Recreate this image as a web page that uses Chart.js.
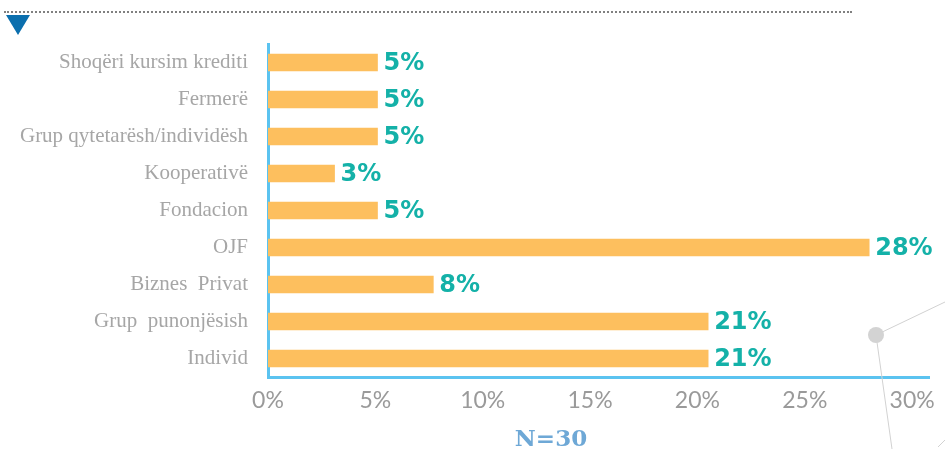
<!DOCTYPE html>
<html>
<head>
<meta charset="utf-8">
<script src="https://cdn.jsdelivr.net/npm/chart.js@4.4.0/dist/chart.umd.min.js"></script>
<style>
  html, body { margin: 0; padding: 0; background: #fff; }
  .wrap { position: relative; width: 945px; height: 449px; overflow: hidden; }
  .dots { position: absolute; left: 4px; top: 11px; width: 848px; border-top: 2px dotted #808080; }
  .tri { position: absolute; left: 6px; top: 15px; width: 0; height: 0;
         border-left: 12px solid transparent; border-right: 12px solid transparent; border-top: 20px solid #0b6fae; }
  .note { position: absolute; left: 500px; top: 424px; width: 102px; text-align: center;
          font: bold 23px "DejaVu Serif", serif; color: #6ea8d6; line-height: 28px; }
  svg.deco { position: absolute; left: 0; top: 0; pointer-events: none; }
  canvas { position: absolute; left: 0; top: 0; }
</style>
</head>
<body>
<div class="wrap">
  <canvas id="myChart" width="945" height="449"></canvas>
  <div class="dots"></div>
  <div class="tri"></div>
  <svg class="deco" width="945" height="449">
    <line x1="876" y1="335" x2="945" y2="302" stroke="#d2d2d2" stroke-width="1"/>
    <line x1="876" y1="335" x2="892" y2="449" stroke="#d2d2d2" stroke-width="1"/>
    <line x1="938" y1="447" x2="945" y2="440" stroke="#d2d2d2" stroke-width="1"/>
    <circle cx="876" cy="335" r="8" fill="#d3d3d3"/>
  </svg>
  <div class="note">N=30</div>
</div>
<script>
// data
const categories = ['Shoqëri kursim krediti', 'Fermerë', 'Grup qytetarësh/individësh', 'Kooperativë', 'Fondacion', 'OJF', 'Biznes  Privat', 'Grup  punonjësish', 'Individ'];
const values = [5.1, 5.1, 5.1, 3.1, 5.1, 28, 7.7, 20.5, 20.5];
const valueLabels = ['5%', '5%', '5%', '3%', '5%', '28%', '8%', '21%', '21%'];
const tickValues = [0, 5, 10, 15, 20, 25, 30];

// labels at the end of each bar
const barLabels = {
  id: 'barLabels',
  afterDatasetsDraw(chart) {
    const ctx = chart.ctx;
    const meta = chart.getDatasetMeta(0);
    ctx.save();
    ctx.font = 'bold 24px "DejaVu Sans"';
    ctx.fillStyle = '#14b1a8';
    ctx.textAlign = 'left';
    ctx.textBaseline = 'middle';
    meta.data.forEach((bar, i) => {
      ctx.fillText(valueLabels[i], bar.x + 6, bar.y + 1);
    });
    ctx.restore();
  }
};

const ctx = document.getElementById('myChart');
let chart = new Chart(ctx, {
  type: 'bar',
  data: {
    labels: categories,
    datasets: [{
      data: values,
      backgroundColor: '#fdbf5e',
      barThickness: 17,
      borderWidth: 0,
    }]
  },
  options: {
    indexAxis: 'y',
    responsive: false,
    animation: false,
    layout: { padding: { left: 0, right: 12, top: 44, bottom: 0 } },
    scales: {
      x: {
        min: 0,
        max: 30.8,
        afterBuildTicks(scale) {
          scale.ticks = tickValues.map(v => ({ value: v }));
        },
        afterFit(scale) { scale.height = 72; },
        grid: { display: false, drawTicks: false },
        border: { display: true, color: '#5bc3f0', width: 3 },
        ticks: {
          padding: 10,
          color: '#9a9a9a',
          font: { family: 'Lato', size: 23 },
          callback: v => v + '%'
        }
      },
      y: {
        afterFit(scale) { scale.width = 268; },
        grid: { display: false, drawTicks: false },
        border: { display: true, color: '#5bc3f0', width: 3 },
        ticks: {
          padding: 20,
          color: '#a6a6a6',
          font: { family: 'Liberation Serif', size: 21 }
        }
      }
    },
    plugins: {
      legend: { display: false },
      tooltip: { enabled: false }
    }
  },
  plugins: [barLabels]
});
</script>
</body>
</html>
